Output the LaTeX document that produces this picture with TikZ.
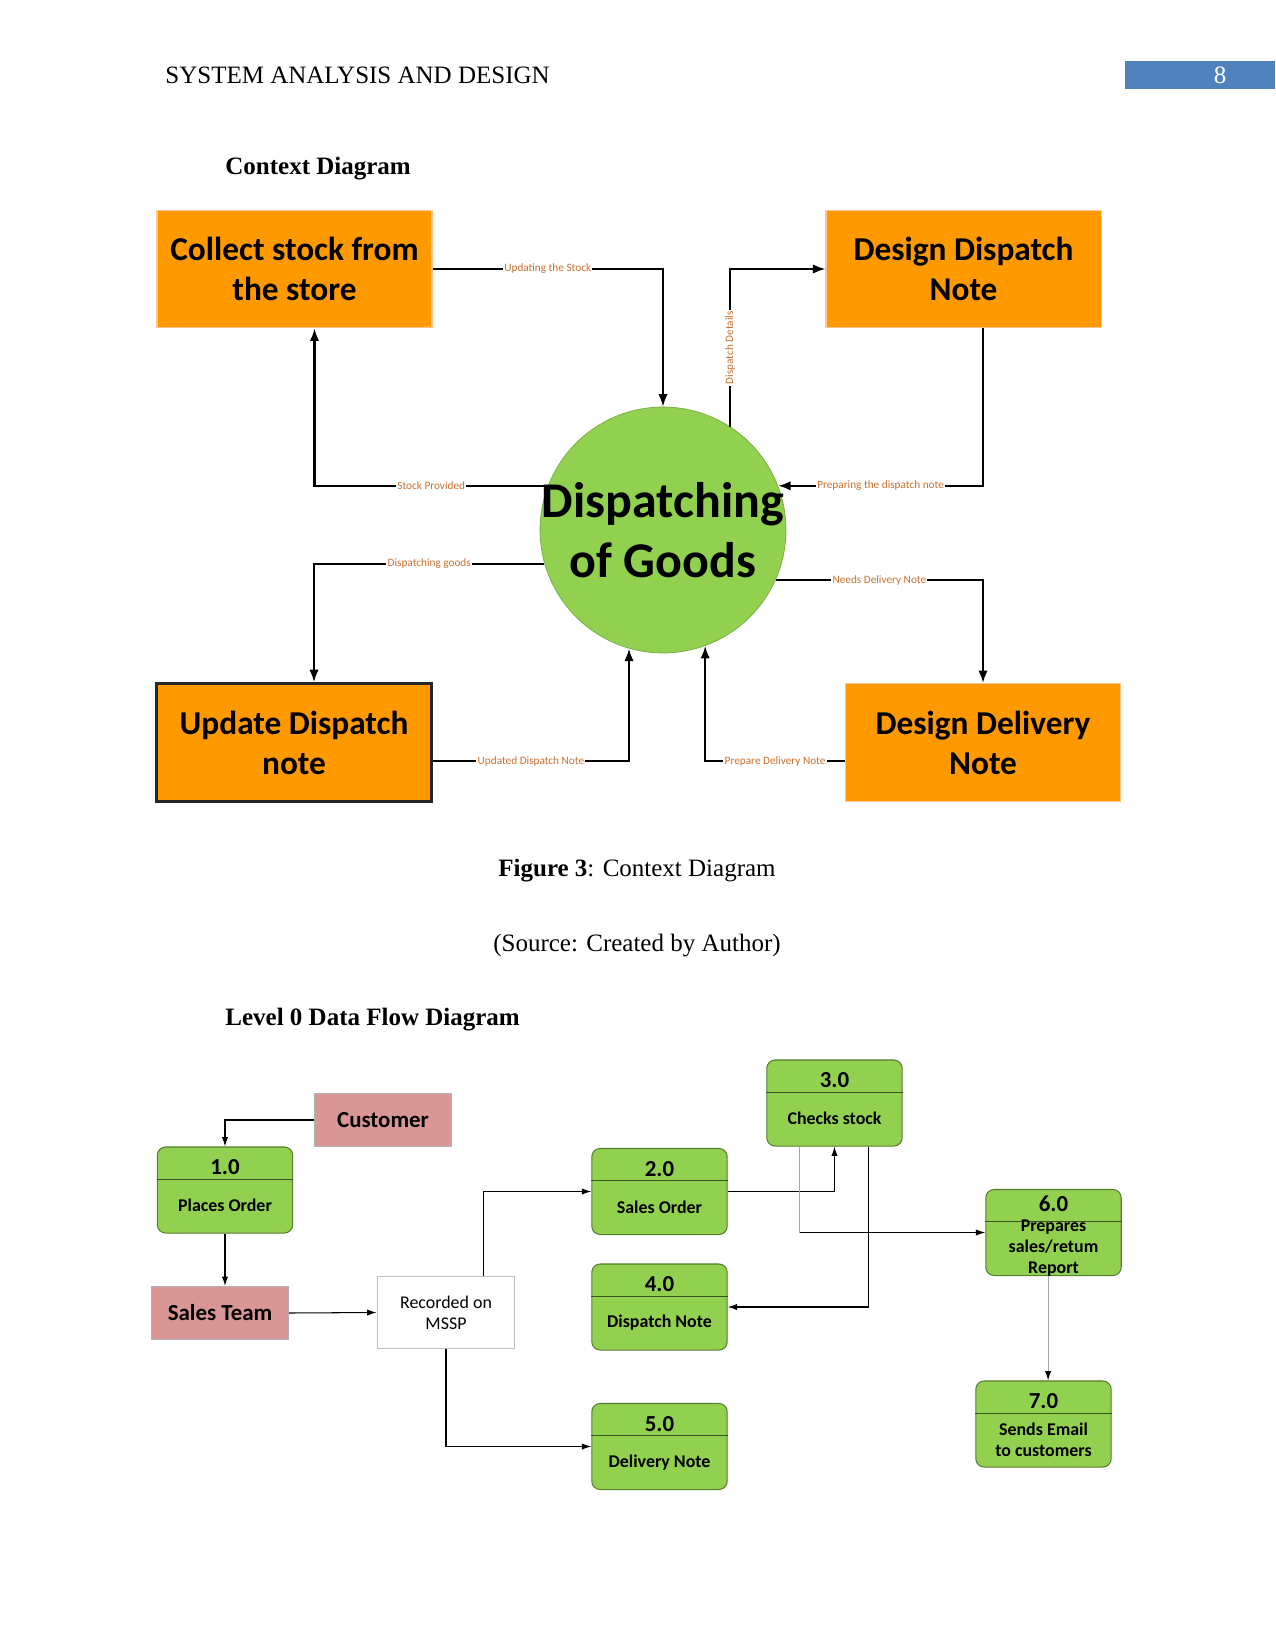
\documentclass[tikz,border=0pt]{standalone}
\usepackage{fontspec}
\setmainfont{Liberation Serif}
\newfontfamily\carlito{Carlito}
\usepackage{tikz}
\usetikzlibrary{arrows.meta,shapes,positioning}

\definecolor{boxorange}{RGB}{255,153,0}
\definecolor{goodsgreen}{RGB}{146,208,80}
\definecolor{lblorange}{RGB}{204,112,46}
\definecolor{pinkbox}{RGB}{217,150,148}
\definecolor{headblue}{RGB}{79,129,189}

% process box of the level 0 diagram: [number offset], name, position, number, text
\newcommand{\procbox}[5][10pt]{%
  \node[proc] (#2) at (#3) {};
  \draw[divline] ([yshift=-15.8pt]#2.north west) -- ([yshift=-15.8pt]#2.north east);
  \node[procnum] (#2num) at ([yshift=-#1]#2.north) {#4};
  \node[proctxt] (#2txt) at ([yshift=13.4pt]#2.south) {#5};
}

\begin{document}
\begin{tikzpicture}[x=0.48pt, y=-0.48pt,
  ctxbox/.style={rectangle, fill=boxorange, draw=orange!45!white, line width=0.5pt,
    minimum width=132pt, minimum height=56.6pt, inner sep=0pt, align=center,
    font=\carlito\bfseries\fontsize{16}{19.2}\selectfont},
  ctxbar/.style={ctxbox, draw=black!85, line width=1.3pt},
  goodsdisc/.style={circle, fill=goodsgreen, draw=goodsgreen!85!black, line width=0.4pt,
    minimum size=118pt, inner sep=0pt},
  goodstext/.style={align=center, inner sep=0pt, font=\carlito\bfseries\fontsize{24}{28.8}\selectfont},
  ctxflow/.style={-{Latex[length=6pt,width=4.5pt]}, line width=1pt},
  ctxlbl/.style={fill=white, inner sep=0.6pt, text=lblorange, font=\carlito\fontsize{5.4}{6}\selectfont},
  proc/.style={rectangle, rounded corners=4pt, fill=goodsgreen, draw=goodsgreen!60!black,
    line width=0.5pt, minimum width=65pt, minimum height=41.3pt, inner sep=0pt},
  divline/.style={draw=goodsgreen!40!black, line width=0.4pt},
  procnum/.style={inner sep=0pt, font=\carlito\bfseries\fontsize{11}{13}\selectfont},
  proctxt/.style={inner sep=0pt, align=center, font=\carlito\bfseries\fontsize{8.6}{10}\selectfont},
  extent/.style={rectangle, fill=pinkbox, draw=black!30, line width=0.5pt,
    minimum width=65.5pt, minimum height=25.5pt, inner sep=0pt,
    font=\carlito\bfseries\fontsize{11}{13}\selectfont},
  store/.style={rectangle, fill=white, draw=black!25, line width=0.5pt,
    minimum width=66.2pt, minimum height=35pt, inner sep=0pt, align=center,
    font=\carlito\fontsize{8.6}{10}\selectfont},
  dfd/.style={-{Latex[length=4.5pt,width=3pt,black]}, line width=0.5pt},
  faint/.style={draw=black!35, line width=0.5pt},
  heading/.style={inner sep=0pt, font=\fontsize{12}{14}\selectfont}]
\useasboundingbox (0,0) rectangle (1275,1650);

% page header
\fill[headblue] (1125,61) rectangle (1275,89);
\node[heading, text=white] (pagenum) at (1220,75) {8};
\node[heading, anchor=west] (runhead) at (165,75) {SYSTEM ANALYSIS AND DESIGN};
\node[heading, anchor=west, font=\bfseries\fontsize{12}{14}\selectfont] (ctxtitle) at (225,169) {Context Diagram};

% context diagram
\node[ctxbox] (collect) at (294.5,269) {Collect stock from\\the store};
\node[ctxbox] (ddisp) at (963.5,269) {Design Dispatch\\Note};
\node[ctxbar] (update) at (294,742.5) {Update Dispatch\\note};
\node[ctxbox] (ddel) at (983,742.5) {Design Delivery\\Note};
\node[goodsdisc] (goods) at (663,530) {};
\node[goodstext] (goodslbl) at (goods) {Dispatching\\of Goods};

\draw[ctxflow] (collect.east) -| (goods.north) node[ctxlbl, pos=0.25] {Updating the Stock};
\draw[ctxflow] (goods.57) |- (ddisp.west) node[ctxlbl, rotate=90, pos=0.25] {Dispatch Details};
\draw[ctxflow] (ddisp.south -| ddel.north) |- (goods.21) node[ctxlbl, pos=0.75] {Preparing the dispatch note};
\draw[ctxflow] (goods.159) -| ([xshift=9.6pt]collect.south) node[ctxlbl, pos=0.25] {Stock Provided};
\draw[ctxflow] (goods.196) -| ([xshift=9.6pt]update.north) node[ctxlbl, pos=0.25] {Dispatching goods};
\draw[ctxflow] (goods.336) -| (ddel.north) node[ctxlbl, pos=0.25] {Needs Delivery Note};
\draw[ctxflow] ([yshift=-8.9pt]update.east) -| (goods.254) node[ctxlbl, pos=0.25] {Updated Dispatch Note};
\draw[ctxflow] ([yshift=-8.9pt]ddel.west) -| (goods.290) node[ctxlbl, pos=0.25] {Prepare Delivery Note};

\node[heading] (figcap) at (637,871) {\textbf{Figure 3}: Context Diagram};
\node[heading] (figsrc) at (637,946) {(Source: Created by Author)};
\node[heading, anchor=west, font=\bfseries\fontsize{12}{14}\selectfont] (dfdtitle) at (225,1020) {Level 0 Data Flow Diagram};

% level 0 data flow diagram
\node[extent] (customer) at (383,1120) {Customer};
\node[extent] (salesteam) at (220,1313) {Sales Team};
\node[store] (mssp) at (446,1312.5) {Recorded on\\MSSP};
\procbox{p1}{225,1190}{1.0}{Places Order}
\procbox{p2}{659.5,1191.5}{2.0}{Sales Order}
\procbox{p3}{834.5,1103}{3.0}{Checks stock}
\procbox{p4}{659.5,1307}{4.0}{Dispatch Note}
\procbox{p5}{659.5,1446.5}{5.0}{Delivery Note}
\procbox[7pt]{p6}{1053.5,1232.5}{6.0}{Prepares\\sales/retum\\Report}
\procbox{p7}{1043.5,1424}{7.0}{Sends Email\\to customers}

\draw[dfd] (customer.west) -| (p1.north);
\draw[dfd] (p1.south) -- (p1.south |- salesteam.north);
\draw[dfd] (salesteam.east) -- (mssp.west);
\draw[dfd] ([xshift=18.2pt]mssp.north) |- (p2.west);
\draw[dfd] (mssp.south) |- (p5.west);
\draw[dfd] (p2.east) -| (p3.south);
\coordinate (stockturn) at ([xshift=-16.6pt]p3.south |- p6.west);
\draw[faint] ([xshift=-16.6pt]p3.south) -- (stockturn);
\draw[dfd] (stockturn) -- (p6.west);
\draw[dfd] ([xshift=16.3pt]p3.south) |- (p4.east);
\draw[dfd, draw=black!35] ([xshift=-2.6pt]p6.south) -- ([xshift=-2.6pt]p6.south |- p7.north);
\end{tikzpicture}
\end{document}
